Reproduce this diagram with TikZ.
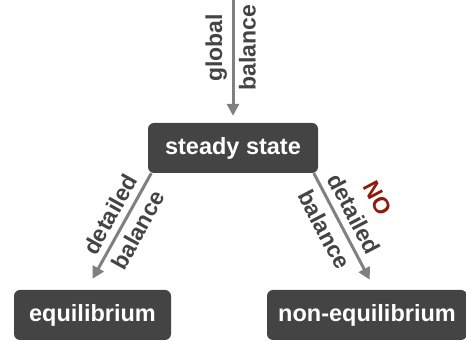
\documentclass[tikz,border=0pt]{standalone}
\usepackage{fontspec}
\setmainfont{Liberation Sans}
\usetikzlibrary{arrows.meta}
\definecolor{boxgray}{HTML}{444444}
\definecolor{arrowgray}{HTML}{808080}
\definecolor{nored}{HTML}{8E1A08}
\begin{document}
\begin{tikzpicture}[x=1pt,y=1pt,
  box/.style={fill=boxgray, rounded corners=6pt, text=white,
    font=\fontsize{23.5}{28}\selectfont\bfseries, inner sep=0pt, minimum height=50pt},
  conn/.style={draw=arrowgray, line width=3pt, -{Triangle[length=12pt,width=12pt]}},
  lbltext/.style={font=\fontsize{23}{28}\selectfont\bfseries, text=boxgray, inner sep=0pt},
  lbl/.style={lbltext, sloped}]
\useasboundingbox (0,0) rectangle (466,342);
\node[box, minimum width=170pt] (steady) at (233,194) {steady state};
\node[box, minimum width=157pt] (eq) at (92.5,27) {equilibrium};
\node[box, minimum width=200pt] (neq) at (367,27) {non-equilibrium};
\coordinate (top) at (233,342);
\draw[conn, shorten >=7pt] (top) -- (steady.north)
  node[lbltext, pos=0.39, rotate=90, anchor=south, yshift=4.5pt] {global}
  node[lbltext, pos=0.39, rotate=90, anchor=north, yshift=-4.5pt] {balance};
\draw[conn, shorten >=12.5pt] ([xshift=3.5pt]steady.south west) -- ([xshift=-6pt]eq.north)
  node[lbl, pos=0.42, above=6.2pt] {detailed}
  node[lbl, pos=0.42, below=6.2pt] {balance};
\draw[conn, shorten >=11.3pt] ([xshift=-4.4pt]steady.south east) -- ([xshift=8pt]neq.north)
  node[lbl, pos=0.415, above=6.8pt] {detailed}
  node[lbl, pos=0.415, below=6.8pt] {balance}
  node[lbl, pos=0.395, above=35pt, text=nored] {NO};
\end{tikzpicture}
\end{document}
